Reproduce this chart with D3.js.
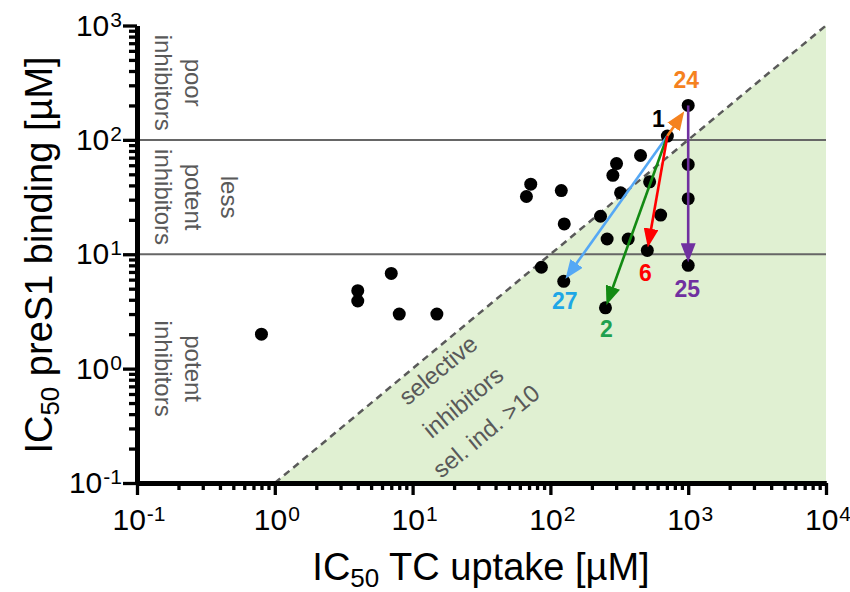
<!DOCTYPE html>
<html><head><meta charset="utf-8">
<script src="https://cdn.jsdelivr.net/npm/d3@7"></script>
<style>
body{margin:0;background:#fff}
text{font-family:"Liberation Sans",Arial,sans-serif}
</style>
</head><body>
<svg id="chart" width="850" height="592"></svg>
<script>
// ---------------- data ----------------
const tcUptake = [0.8, 4, 4, 7, 8, 15, 67, 72, 86, 120, 126, 125, 231, 251, 258, 284, 302, 323, 367, 451, 505, 525, 631, 706, 1000, 1000, 1000, 1000];
const preS1    = [2, 4.8, 3.9, 6.8, 3, 3, 32, 41, 7.7, 36, 18.4, 5.8, 21.5, 3.4, 13.6, 49, 62, 34.5, 13.6, 73, 10.8, 43, 22, 108, 200, 61, 30.6, 8];
const compoundIds = ["", "", "", "", "", "", "", "", "", "", "", "27", "", "2", "", "", "", "", "", "", "6", "", "", "1", "24", "", "", "25"];

const arrowFrom = ["1", "1", "1", "1", "24"];
const arrowTo   = ["24", "27", "2", "6", "25"];
const arrowColors = ["#F5821F", "#55A8F5", "#138A13", "#FF0000", "#7030A0"];

const labelIds    = ["24", "1", "27", "2", "6", "25"];
const labelColors = ["#F5821F", "#000000", "#1EA7E6", "#1FA04F", "#FF0000", "#7030A0"];

const xDecades = [0.1, 1, 10, 100, 1000, 10000];
const yDecades = [0.1, 1, 10, 100, 1000];
const gridLevels = [10, 100];
const selIndex = 10;

const regionText = [
  {lines: ["poor", "inhibitors"], y: 100 * Math.sqrt(10)},
  {lines: ["less", "potent", "inhibitors"], y: 10 * Math.sqrt(10)},
  {lines: ["potent", "inhibitors"], y: 1}
];
const selText = ["selective", "inhibitors", "sel. ind. >10"];

const xTitle = ["IC", "50", " TC uptake [µM]"];
const yTitle = ["IC", "50", " preS1 binding [µM]"];

// ---------------- layout ----------------
const svg = d3.select("#chart");
const pLeft = 137, pRight = 826, pTop = 25.5, pBottom = 483;
const x = d3.scaleLog().domain([0.1, 1e4]).range([pLeft, pRight]);
const y = d3.scaleLog().domain([0.1, 1e3]).range([pBottom, pTop]);

function minors(dec) {
  const out = [];
  for (let i = 0; i < dec.length - 1; i++)
    for (let k = 2; k <= 9; k++) out.push(dec[i] * k);
  return out;
}

// selective region fill
const xMax = x.domain()[1], yMin = y.domain()[0];
const fillPts = [[yMin * selIndex, yMin], [xMax, xMax / selIndex], [xMax, yMin]];
svg.append("path")
  .attr("d", d3.line().x(d => x(d[0])).y(d => y(d[1]))(fillPts) + "Z")
  .attr("fill", "#E0F0D2");

// grid lines
svg.selectAll(".grid").data(gridLevels).join("line")
  .attr("x1", pLeft).attr("x2", pRight)
  .attr("y1", d => y(d)).attr("y2", d => y(d))
  .attr("stroke", "#666").attr("stroke-width", 2);

// dashed diagonal
svg.append("line")
  .attr("x1", x(yMin * selIndex)).attr("y1", y(yMin))
  .attr("x2", x(xMax)).attr("y2", y(xMax / selIndex))
  .attr("stroke", "#5a5a5a").attr("stroke-width", 2.5)
  .attr("stroke-dasharray", "7,5");

// region labels (rotated 90)
const gray = "#595959";
const colX = [229, 193, 163];
regionText.forEach(r => {
  const n = r.lines.length;
  r.lines.forEach((t, i) => {
    const cx = colX[3 - n + i];
    svg.append("text")
      .attr("transform", `translate(${cx},${y(r.y)}) rotate(90)`)
      .attr("text-anchor", "middle").attr("dy", "0.35em")
      .attr("font-size", 24).attr("fill", gray).text(t);
  });
});

// selective text
const ang = -Math.atan((y(1) - y(10)) / (x(10) - x(1))) * 180 / Math.PI;
const selPos = [[438, 370], [463, 402], [486, 431]];
selText.forEach((t, i) => {
  svg.append("text")
    .attr("transform", `translate(${selPos[i][0]},${selPos[i][1]}) rotate(${ang})`)
    .attr("text-anchor", "middle").attr("dy", "0.35em")
    .attr("font-size", 24).attr("fill", gray).text(t);
});

// axes
function styleAxis(g) {
  g.select(".domain").attr("stroke", "#000").attr("stroke-width", 5);
  g.selectAll(".tick line").attr("stroke", "#000").attr("stroke-width", 3.3);
}
const yMinorAx = svg.append("g").attr("transform", `translate(${pLeft},0)`)
  .call(d3.axisLeft(y).tickValues(minors(yDecades)).tickSize(8).tickSizeOuter(0).tickFormat(""));
styleAxis(yMinorAx);
const yMajorAx = svg.append("g").attr("transform", `translate(${pLeft},0)`)
  .call(d3.axisLeft(y).tickValues(yDecades).tickSize(14).tickSizeOuter(0).tickFormat(""));
styleAxis(yMajorAx);
const xMinorAx = svg.append("g").attr("transform", `translate(0,${pBottom})`)
  .call(d3.axisBottom(x).tickValues(minors(xDecades)).tickSize(7).tickSizeOuter(0).tickFormat(""));
styleAxis(xMinorAx);
const xMajorAx = svg.append("g").attr("transform", `translate(0,${pBottom})`)
  .call(d3.axisBottom(x).tickValues(xDecades).tickSize(12).tickSizeOuter(0).tickFormat(""));
styleAxis(xMajorAx);

function powLabel(sel, v) {
  const e = Math.round(Math.log10(v));
  sel.append("tspan").text("10");
  sel.append("tspan").attr("font-size", 21).attr("dy", -9).attr("dx", 1).text(e);
}
yDecades.forEach(v => {
  const t = svg.append("text").attr("x", 122).attr("y", y(v) + 10)
    .attr("text-anchor", "end").attr("font-size", 30).attr("fill", "#000");
  powLabel(t, v);
});
xDecades.forEach(v => {
  const t = svg.append("text").attr("x", x(v) + 2).attr("y", 530)
    .attr("text-anchor", "middle").attr("font-size", 30).attr("fill", "#000");
  powLabel(t, v);
});

// axis titles
function title(sel, parts) {
  sel.append("tspan").text(parts[0]);
  sel.append("tspan").attr("font-size", 26).attr("dy", 7).text(parts[1]);
  sel.append("tspan").attr("dy", -7).text(parts[2]);
}
title(svg.append("text").attr("x", 481).attr("y", 580).attr("text-anchor", "middle")
  .attr("font-size", 38).attr("fill", "#000"), xTitle);
title(svg.append("text").attr("transform", `translate(52,255) rotate(-90)`).attr("text-anchor", "middle")
  .attr("font-size", 38).attr("fill", "#000"), yTitle);

// points
const pts = tcUptake.map((v, i) => ({x: v, y: preS1[i], id: compoundIds[i]}));
svg.selectAll(".pt").data(pts).join("circle")
  .attr("cx", d => x(d.x)).attr("cy", d => y(d.y)).attr("r", 6.5).attr("fill", "#000");

// arrows
const byId = {};
pts.forEach(p => { if (p.id) byId[p.id] = p; });
const defs = svg.append("defs");
arrowColors.forEach((c, i) => {
  defs.append("marker").attr("id", "ah" + i)
    .attr("markerUnits", "userSpaceOnUse").attr("viewBox", "0 0 19 15")
    .attr("markerWidth", 19).attr("markerHeight", 15)
    .attr("refX", 19).attr("refY", 7.5).attr("orient", "auto")
    .append("path").attr("d", "M0,0L19,7.5L0,15Z").attr("fill", c);
});
arrowFrom.forEach((f, i) => {
  const a = byId[f], b = byId[arrowTo[i]];
  const x1 = x(a.x), y1 = y(a.y), x2 = x(b.x), y2 = y(b.y);
  const L = Math.hypot(x2 - x1, y2 - y1);
  const shorten = i === 0 ? 7 : 3;
  const ex = x2 - (x2 - x1) / L * shorten, ey = y2 - (y2 - y1) / L * shorten;
  const lx = ex - (x2 - x1) / L * 12, ly = ey - (y2 - y1) / L * 12;
  svg.append("line").attr("x1", x1).attr("y1", y1).attr("x2", lx).attr("y2", ly)
    .attr("stroke", arrowColors[i]).attr("stroke-width", 2.6);
  svg.append("path").attr("d", `M${lx},${ly}L${ex},${ey}`)
    .attr("stroke", arrowColors[i]).attr("stroke-width", 0.1).attr("marker-end", `url(#ah${i})`);
});

// compound labels
const labelOffset = {"24": [-2, -17], "1": [-9, -9], "27": [1, 28], "2": [1, 29], "6": [-2, 31], "25": [-1, 32]};
labelIds.forEach((id, i) => {
  const p = byId[id];
  svg.append("text").attr("x", x(p.x) + labelOffset[id][0]).attr("y", y(p.y) + labelOffset[id][1])
    .attr("text-anchor", "middle").attr("font-size", 23).attr("font-weight", "bold")
    .attr("fill", labelColors[i]).text(id);
});
</script>
</body></html>
